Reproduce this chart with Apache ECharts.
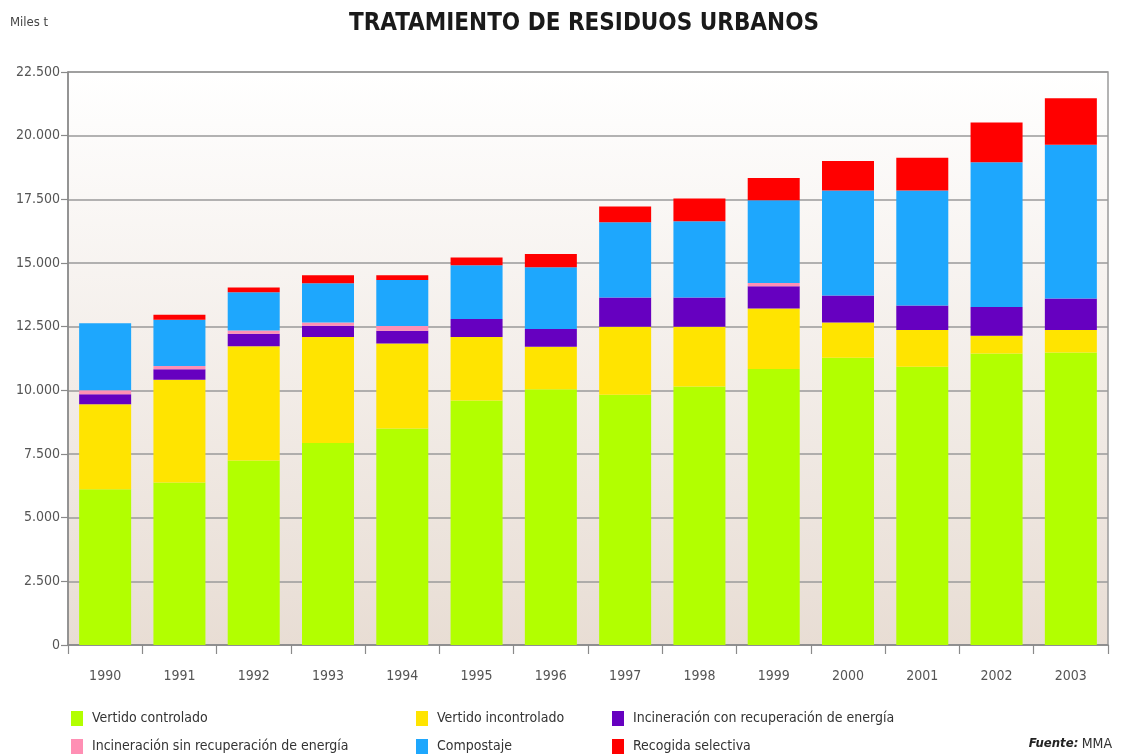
<!DOCTYPE html>
<html><head><meta charset="utf-8">
<script src="https://cdn.jsdelivr.net/npm/echarts@6/dist/echarts.min.js"></script>
<style>html,body{margin:0;padding:0;background:#fff}#c{width:1122px;height:756px}</style>
</head><body><div id="c"></div>
<script>
const years = ['1990','1991','1992','1993','1994','1995','1996','1997','1998','1999','2000','2001','2002','2003'];
const seriesNames = ['Vertido controlado','Vertido incontrolado','Incineración con recuperación de energía','Incineración sin recuperación de energía','Compostaje','Recogida selectiva'];
const vertidoControlado   = [6120, 6380, 7240, 7930, 8500, 9600, 10040, 9830, 10150, 10840, 11280, 10930, 11450, 11490];
const vertidoIncontrolado = [3330, 4040, 4490, 4160, 3340, 2490, 1670, 2670, 2350, 2370, 1380, 1440, 690, 880];
const incConRecuperacion  = [400, 410, 490, 450, 500, 710, 700, 1150, 1150, 880, 1060, 960, 1130, 1240];
const incSinRecuperacion  = [150, 130, 130, 120, 190, 0, 0, 0, 0, 120, 0, 0, 0, 0];
const compostaje          = [2630, 1810, 1500, 1540, 1800, 2110, 2420, 2950, 2990, 3250, 4130, 4520, 5690, 6030];
const recogidaSelectiva   = [0, 200, 190, 320, 190, 310, 520, 620, 890, 880, 1160, 1280, 1560, 1830];
const yTicks = [0, 2500, 5000, 7500, 10000, 12500, 15000, 17500, 20000, 22500];

const colors = ['#b2ff00','#ffe400','#6600c0','#ff8fb4','#1ea7fd','#ff0000'];
const values = [vertidoControlado, vertidoIncontrolado, incConRecuperacion, incSinRecuperacion, compostaje, recogidaSelectiva];
const FONT = "'Liberation Sans Narrow','DejaVu Sans Condensed','Roboto Condensed',sans-serif";

function fmt(v){ return String(v).replace(/\B(?=(\d{3})+(?!\d))/g,'.'); }

const legendPos = [
  {left:66, top:706}, {left:411, top:706}, {left:607, top:706},
  {left:66, top:734}, {left:411, top:734}, {left:607, top:734}
];

const chart = echarts.init(document.getElementById('c'), null, {renderer:'canvas'});
chart.setOption({
  animation:false,
  backgroundColor:'#ffffff',
  color: colors,
  title:{
    text:'TRATAMIENTO DE RESIDUOS URBANOS',
    left:344, top:7,
    textStyle:{fontFamily:FONT, fontWeight:'bold', fontSize:24, color:'#1a1a1a'}
  },
  graphic:[
    {type:'text', left:10, top:16, style:{text:'Miles t', fontFamily:FONT, fontSize:13, fill:'#444'}},
    {type:'text', right:10, top:737, style:{
      rich:{a:{fontFamily:FONT, fontStyle:'italic', fontWeight:'bold', fontSize:13, fill:'#222'},
            b:{fontFamily:FONT, fontSize:14, fill:'#333'}},
      text:'{a|Fuente:} {b|MMA}'}}
  ],
  legend: seriesNames.map((n,i)=>({
    data:[n], left:legendPos[i].left, top:legendPos[i].top, orient:'horizontal',
    itemWidth:12, itemHeight:15, itemGap:6, icon:'rect', selectedMode:false,
    textStyle:{fontFamily:FONT, fontSize:14, color:'#333', padding:[0,0,0,4]}
  })),
  grid:{
    left:68, right:14, top:72, bottom:111, show:true,
    borderColor:'#9a9a9a', borderWidth:1.5,
    backgroundColor:{type:'linear', x:0, y:0, x2:0, y2:1,
      colorStops:[{offset:0,color:'#ffffff'},{offset:1,color:'#e8ddd4'}]}
  },
  xAxis:{
    type:'category', data:years,
    axisLine:{lineStyle:{color:'#8a8a8a', width:1.5}},
    axisTick:{show:true, length:9, alignWithLabel:false, lineStyle:{color:'#8a8a8a', width:1.2}},
    axisLabel:{fontFamily:FONT, fontSize:14, color:'#555', margin:24}
  },
  yAxis:{
    type:'value', min:0, max:22500, interval:2500,
    axisLine:{show:true, lineStyle:{color:'#8a8a8a', width:1.5}},
    axisTick:{show:true, length:7, lineStyle:{color:'#8a8a8a', width:1.2}},
    splitLine:{lineStyle:{color:'#9a9a9a', width:1.5}},
    axisLabel:{fontFamily:FONT, fontSize:14, color:'#555', margin:8, formatter:fmt}
  },
  series: seriesNames.map((n,i)=>({
    name:n, type:'bar', stack:'total', data:values[i], barWidth:52,
    itemStyle:{color:colors[i]}
  }))
});
</script></body></html>
